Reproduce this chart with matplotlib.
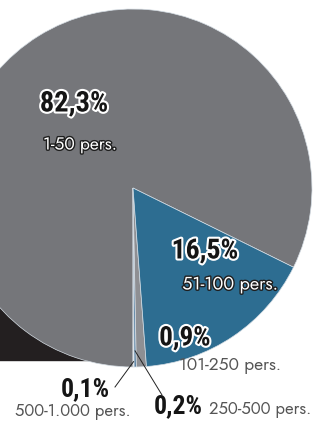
import matplotlib.pyplot as plt
import matplotlib.patheffects as pe
from matplotlib.patches import Rectangle
import numpy as np

# company size shares, in drawing order (counter-clockwise)
shares = [82.3, 0.1, 0.2, 0.9, 16.5]
pct_labels = ["82,3%", "0,1%", "0,2%", "0,9%", "16,5%"]
size_labels = ["1-50 pers.", "500-1.000 pers.", "250-500 pers.", "101-250 pers.", "51-100 pers."]
colors = ["#75767a", "#ffffff", "#5a82a4", "#8e8f93", "#2d6d91"]

W, H = 326, 426
cx, cy, r = 133, H - 188, 179

fig = plt.figure(figsize=(W / 100, H / 100), dpi=100)
ax = fig.add_axes([0, 0, 1, 1])

# dark block peeking out under the lower left of the pie
ax.add_patch(Rectangle((-10, H - 360), 120, 160, color="#231f20", zorder=0))

# gray slice ends straight down, the rest follow
start = 270 - shares[0] / 100 * 360
wedges, _ = ax.pie(shares, colors=colors, startangle=start, counterclock=True,
                   center=(cx, cy), radius=r, frame=True,
                   wedgeprops=dict(edgecolor="#d5dde4", linewidth=0.5))
for w in wedges:
    w.set_zorder(1)
ax.set_xlim(0, W)
ax.set_ylim(0, H)
ax.set_aspect("equal")
ax.axis("off")

bold_fam = ["Roboto Condensed", "DejaVu Sans"]
light_fam = ["Jost", "DejaVu Sans"]
white_halo = [pe.withStroke(linewidth=3, foreground="white")]
dark_halo = [pe.withStroke(linewidth=2, foreground="#1e1e1e")]


def pct(x, y, s, size, effects=None):
    ax.text(x, H - y, s, fontsize=size, fontweight="bold", color="#151515",
            ha="center", va="center", family=bold_fam, path_effects=effects,
            zorder=5)


def note(x, y, s, size, color="#555555", effects=None, weight="light"):
    ax.text(x, H - y, s, fontsize=size, fontweight=weight, color=color,
            ha="center", va="center", family=light_fam, path_effects=effects,
            zorder=5)


# inside labels
pct(74, 104, pct_labels[0], 20.5, white_halo)
note(80, 145, size_labels[0], 12.5, "white", dark_halo, "medium")
pct(205, 251, pct_labels[4], 20, white_halo)
note(230, 284, size_labels[4], 13, "white", dark_halo, "medium")
pct(185, 338, pct_labels[3], 19.5, white_halo)
note(230, 366, size_labels[3], 12.5)

# outside labels for the two thinnest slices
pct(85, 389, pct_labels[1], 18.5)
note(73, 411, size_labels[1], 12)
pct(178, 406, pct_labels[2], 18.5)
note(260, 409, size_labels[2], 12)


def mid_point(i, frac):
    w = wedges[i]
    a = np.deg2rad((w.theta1 + w.theta2) / 2)
    return cx + frac * r * np.cos(a), cy + frac * r * np.sin(a)


x1, y1 = mid_point(1, 0.97)
ax.plot([115, x1], [H - 387, y1], color="#222222", lw=0.7, zorder=4)
x2, y2 = mid_point(2, 0.91)
ax.plot([x2, 162], [y2, H - 395], color="#222222", lw=0.7, zorder=4)

fig.savefig("out.png", dpi=100)
